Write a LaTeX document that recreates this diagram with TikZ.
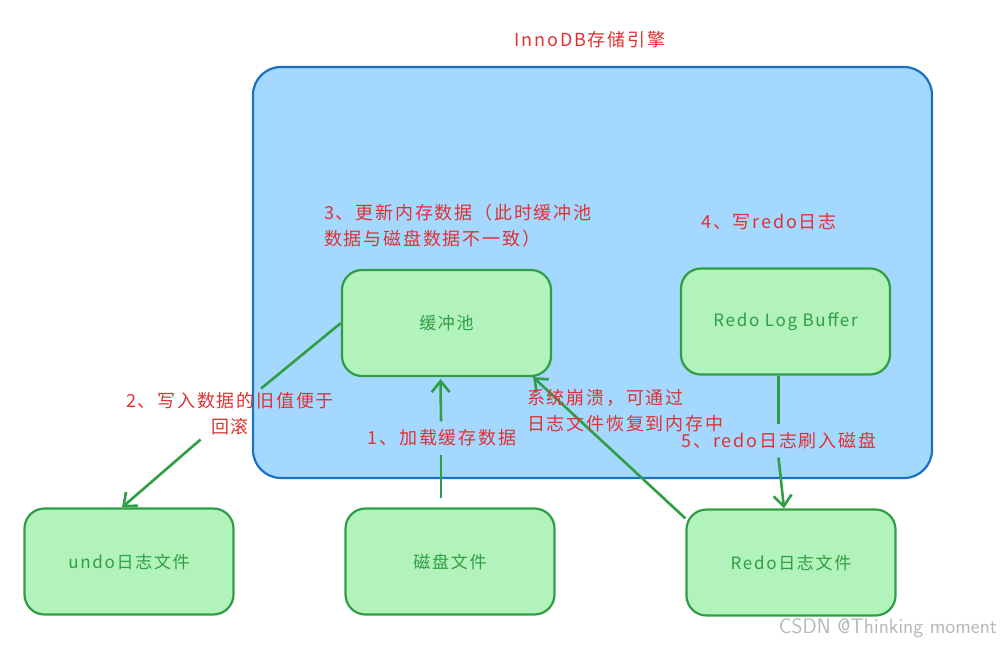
\documentclass[tikz,border=0pt]{standalone}
\usepackage{fontspec}
\setmainfont{Noto Sans CJK SC}[LetterSpace=10]
\usetikzlibrary{arrows.meta,calc}
\definecolor{bluefill}{HTML}{A5D8FF}
\definecolor{bluestroke}{HTML}{1971C2}
\definecolor{greenfill}{HTML}{B2F2BB}
\definecolor{greenstroke}{HTML}{2F9E44}
\definecolor{redtext}{HTML}{E03131}
\begin{document}
\begin{tikzpicture}[x=1pt,y=-1pt,
  gbox/.style={draw=greenstroke,fill=greenfill,line width=2.2pt,rounded corners=20pt,
     minimum width=209pt,minimum height=106pt,text=greenstroke,font=\fontsize{17}{20}\selectfont},
  lbl/.style={text=redtext,font=\fontsize{18}{26}\selectfont,inner sep=2pt},
  conn/.style={draw=greenstroke,line width=2.6pt},
  arr/.style={conn,-{Straight Barb[length=11pt,width=18pt]}}]
\useasboundingbox (0,0) rectangle (1003,646);
\node[draw=bluestroke,fill=bluefill,line width=2.2pt,rounded corners=28pt,
  minimum width=679pt,minimum height=411pt] (big) at (592.5,272.5) {};
\node[lbl] (title) at (590,40) {InnoDB存储引擎};
\node[gbox] (pool) at (446.5,323) {缓冲池};
\node[gbox] (rlb) at (785.5,321.5) {Redo Log Buffer};
\node[gbox] (undo) at (129,561.5) {undo日志文件};
\node[gbox] (disk) at (450,561.5) {磁盘文件};
\node[gbox] (redo) at (791,562.5) {Redo日志文件};
\node[lbl,align=left,anchor=north west] (l3) at (322,202) {3、更新内存数据（此时缓冲池\\数据与磁盘数据不一致）};
\node[lbl] (l4) at (769,222) {4、写redo日志};
% arrow 2
\node[lbl,align=center,inner sep=4pt] (l2) at (230,414) {2、写入数据的旧值便于\\回滚};
\draw[conn] (pool.west) -- (l2);
\draw[arr] (l2) -- ($(undo.north)+(-7,0)$);
% arrow 1
\node[lbl,inner sep=8pt] (l1) at (442,438) {1、加载缓存数据};
\coordinate (d1) at ($(disk.north)+(-9,-9)$);
\coordinate (p1) at ($(pool.south)+(-6,2)$);
\draw[conn] (d1) -- (d1 |- l1.south);
\draw[arr] (d1 |- l1.north) -- (p1);
% recovery arrow
\coordinate (r1) at ($(redo.north west)+(0,10)$);
\coordinate (p2) at ($(pool.south east)+(-19,0)$);
\draw[arr] (r1) -- (p2);
\node[lbl,align=left,anchor=north west] (lr) at (525,387) {系统崩溃，可通过\\日志文件恢复到内存中};
% arrow 5
\node[lbl,inner sep=8pt] (l5) at (779,441) {5、redo日志刷入磁盘};
\coordinate (b1) at ($(rlb.south)+(-7,0)$);
\coordinate (b2) at ($(redo.north)+(-7,0)$);
\draw[conn] (b1) -- (b1 |- l5.north);
\draw[arr] (b1 |- l5.south) -- (b2);
\node[text=black!28,font=\fontsize{21}{24}\selectfont\sffamily] (wm) at (888,628) {CSDN @Thinking moment};
\end{tikzpicture}
\end{document}
